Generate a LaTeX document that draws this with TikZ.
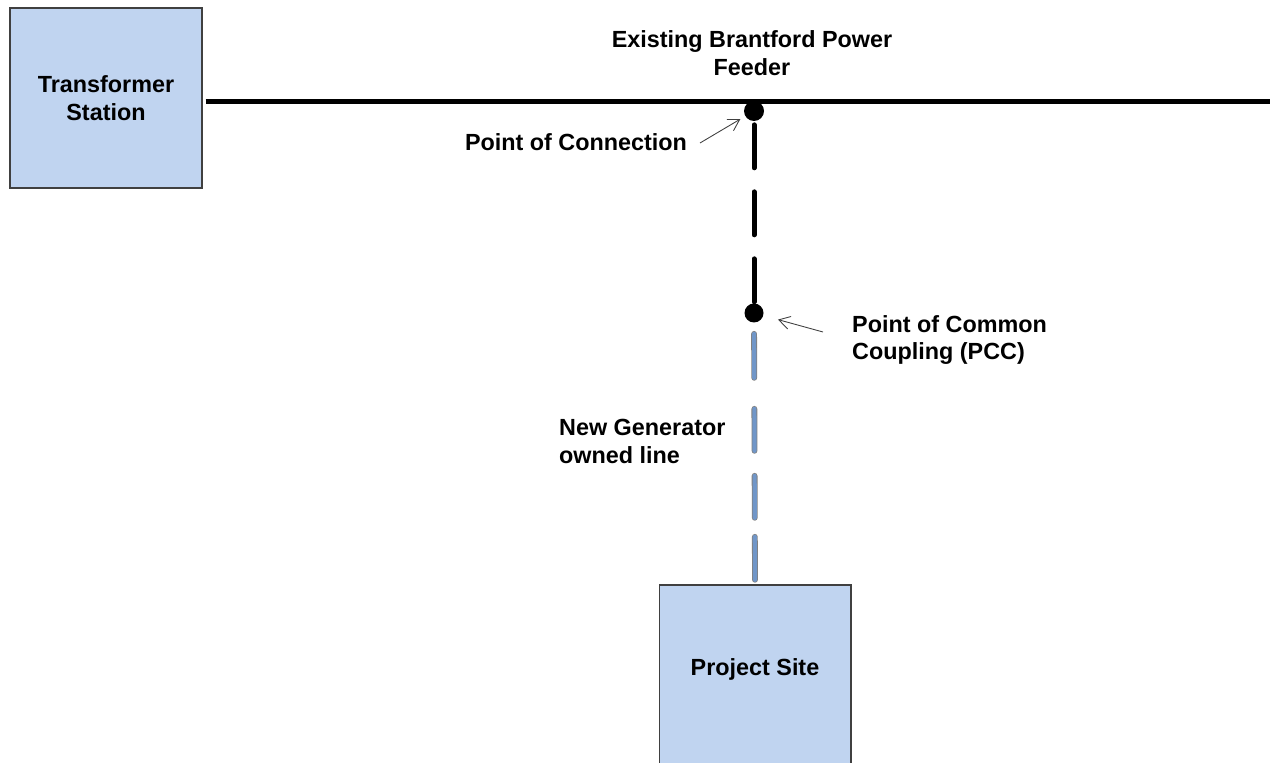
\documentclass[tikz,border=0pt]{standalone}
\usepackage{fontspec}
\setmainfont{Liberation Sans}
\usetikzlibrary{arrows.meta}
\definecolor{boxblue}{RGB}{192,212,240}
\definecolor{boxedge}{RGB}{64,64,64}
\definecolor{lineblue}{RGB}{112,150,200}
\begin{document}
\begin{tikzpicture}[x=0.02cm, y=-0.02cm, font=\fontsize{13.3}{15.9}\selectfont\bfseries,
    station/.style={draw=boxedge, line width=0.6pt, fill=boxblue, minimum width=3.84cm, minimum height=3.6cm, align=center, inner sep=0pt},
    dot/.style={circle, fill=black, inner sep=0pt, minimum size=#1},
    pointer/.style={draw=boxedge, line width=0.5pt, -{Straight Barb[length=0.22cm, width=0.26cm]}}]
  \clip (0,0) rectangle (1270,763);
  % boxes
  \node[station] (ts) at (106,98) {Transformer\\Station};
  \node[station, text depth=0.3cm] (site) at (755,675) {Project Site};
  % existing feeder
  \coordinate (feedend) at (1270,101.5);
  \draw[line width=0.1cm, shorten <=0.06cm] (ts.east |- feedend) -- (feedend);
  \node[align=center] (feeder) at (752,53) {Existing Brantford Power\\Feeder};
  % connection points
  \node[dot=0.4cm] (poc) at (754,111) {};
  \node[dot=0.38cm] (pcc) at (754,313) {};
  \draw[line width=0.1cm, line cap=round, dash pattern=on 0.86cm off 0.48cm, shorten <=0.07cm] (poc) -- (pcc);
  \draw[draw=gray, line width=0.45pt, double=lineblue, double distance=2.4pt, line cap=round,
        dash pattern=on 0.88cm off 0.62cm on 0.84cm off 0.5cm on 0.84cm off 0.38cm on 0.86cm off 0.6cm,
        shorten <=0.22cm] (pcc) -- (site.north);
  % labels
  \node (poclabel) at (576,142) {Point of Connection};
  \coordinate (poctail) at (700,143);
  \draw[pointer, shorten >=0.11cm] (poctail) -- (poc);
  \node[anchor=west, align=left] (pcclabel) at (846,340) {Point of Common\\Coupling (PCC)};
  \coordinate (pcctail) at (823,332);
  \draw[pointer, shorten >=0.3cm] (pcctail) -- (pcc);
  \node[anchor=west, align=left] (genlabel) at (553,441) {New Generator\\owned line};
\end{tikzpicture}
\end{document}
